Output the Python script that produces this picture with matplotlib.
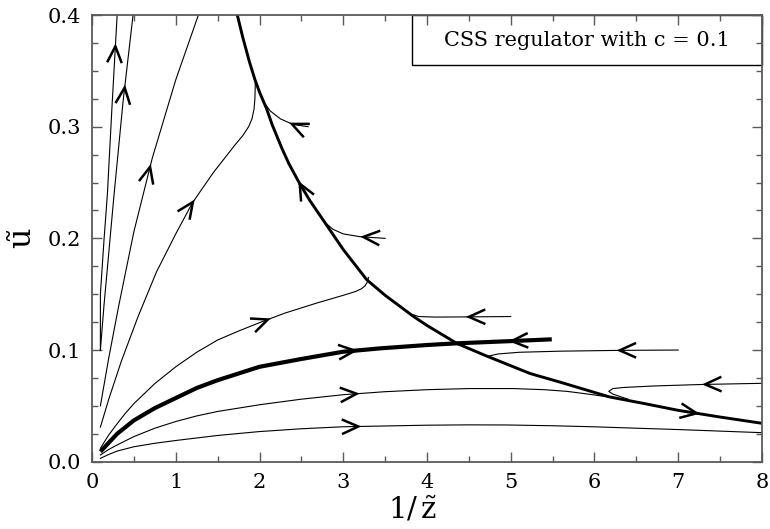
import matplotlib
matplotlib.use('Agg')
import matplotlib.pyplot as plt
from matplotlib.patches import Rectangle
import numpy as np

plt.rcParams['font.family'] = 'DejaVu Serif'
plt.rcParams['mathtext.fontset'] = 'dejavuserif'

# flow lines, (1/z, u) pairs
# separatrix (thick)
sep_x = [1.735, 1.80, 1.88, 1.946, 2.0, 2.085, 2.15, 2.265, 2.35, 2.48, 2.6, 2.80, 3.0, 3.28, 3.5,
         3.84, 4.0, 4.355, 4.7, 5.23, 5.6, 6.18, 6.6, 7.0, 7.5, 8.0]
sep_u = [0.400, 0.380, 0.358, 0.342, 0.331, 0.316, 0.302, 0.281, 0.267, 0.249, 0.234, 0.212, 0.190,
         0.163, 0.149, 0.130, 0.122, 0.106, 0.095, 0.079, 0.071, 0.058, 0.052, 0.046, 0.040, 0.0344]

# lower thick line
c_x = [0.1, 0.2, 0.3, 0.4, 0.5, 0.75, 1.0, 1.25, 1.5, 1.75, 2.0, 2.5, 3.0, 3.44, 4.0, 4.35, 5.0, 5.49]
c_u = [0.009, 0.017, 0.025, 0.031, 0.037, 0.048, 0.057, 0.066, 0.073, 0.079, 0.085, 0.092, 0.0985,
       0.1015, 0.1045, 0.106, 0.108, 0.1096]

# thin lines starting near 1/z = 0.1
a_x = [0.1, 0.2, 0.3, 0.5, 0.75, 1.0, 1.5, 2.0, 2.5, 3.0, 3.5, 4.0, 4.5, 4.95, 5.5, 5.98, 6.5, 7.0,
       7.5, 8.0]
a_u = [0.003, 0.0065, 0.0095, 0.0134, 0.0165, 0.019, 0.0235, 0.027, 0.0295, 0.0313, 0.032, 0.0327,
       0.033, 0.0329, 0.0322, 0.0313, 0.030, 0.0288, 0.0274, 0.026]

b_x = [0.1, 0.2, 0.3, 0.5, 0.75, 1.0, 1.25, 1.5, 2.0, 2.5, 3.0, 3.5, 4.0, 4.5, 5.03, 5.4, 5.67, 5.9,
       6.07, 6.3]
b_u = [0.006, 0.011, 0.015, 0.0225, 0.030, 0.036, 0.041, 0.045, 0.051, 0.056, 0.060, 0.0627, 0.0645,
       0.0655, 0.0655, 0.0645, 0.063, 0.0608, 0.059, 0.0565]

d_x = [0.1, 0.2, 0.3, 0.4, 0.5, 0.75, 1.0, 1.25, 1.5, 1.75, 2.0, 2.3, 2.68, 3.0, 3.15, 3.22, 3.26,
       3.285, 3.297, 3.30]
d_u = [0.012, 0.024, 0.034, 0.0435, 0.052, 0.070, 0.085, 0.098, 0.109, 0.117, 0.1245, 0.133, 0.142,
       0.149, 0.1525, 0.155, 0.1575, 0.1605, 0.163, 0.165]

e_x = [0.1, 0.2, 0.35, 0.55, 0.77, 1.0, 1.2, 1.45, 1.7, 1.8, 1.87, 1.91, 1.935, 1.945, 1.948, 1.95]
e_u = [0.031, 0.056, 0.090, 0.130, 0.170, 0.204, 0.232, 0.259, 0.283, 0.292, 0.300, 0.307, 0.316,
       0.325, 0.333, 0.342]

l1_x = [0.1, 0.1, 0.143, 0.183, 0.24, 0.30]
l1_u = [0.10, 0.15, 0.1985, 0.239, 0.32, 0.40]

l2_x = [0.1, 0.143, 0.263, 0.37, 0.49]
l2_u = [0.10, 0.14, 0.239, 0.322, 0.40]

l3_x = [0.1, 0.2, 0.32, 0.50, 0.72, 1.0, 1.27]
l3_u = [0.05, 0.093, 0.14, 0.206, 0.272, 0.342, 0.40]

# thin lines starting on the right, flowing left
r1_x = [2.58, 2.4, 2.25, 2.13, 2.05]
r1_u = [0.300, 0.302, 0.307, 0.314, 0.322]

r2_x = [3.5, 3.2, 3.0, 2.88, 2.80]
r2_u = [0.200, 0.2015, 0.204, 0.208, 0.213]

r3_x = [5.0, 4.5, 4.1, 3.9, 3.82]
r3_u = [0.130, 0.1297, 0.1295, 0.130, 0.132]

r4_x = [7.0, 6.3, 5.6, 5.1, 4.85, 4.76, 4.72]
r4_u = [0.100, 0.0997, 0.099, 0.098, 0.0965, 0.095, 0.094]

r5_x = [8.0, 7.3, 6.7, 6.35, 6.22, 6.17, 6.22, 6.4]
r5_u = [0.0702, 0.0692, 0.0678, 0.0665, 0.0655, 0.063, 0.0605, 0.056]

fig = plt.figure(figsize=(7.7, 5.29), dpi=100)
ax = fig.add_axes([0.1195, 0.1272, 0.8701, 0.8444])
ax.set_xlim(0, 8)
ax.set_ylim(0, 0.4)

thin = [(a_x, a_u), (b_x, b_u), (d_x, d_u), (e_x, e_u), (l1_x, l1_u), (l2_x, l2_u), (l3_x, l3_u),
        (r1_x, r1_u), (r2_x, r2_u), (r3_x, r3_u), (r4_x, r4_u), (r5_x, r5_u)]
for xs, us in thin:
    ax.plot(xs, us, color='k', lw=0.8)
ax.plot(sep_x, sep_u, color='k', lw=2.1)
ax.plot(c_x, c_u, color='k', lw=3.0, solid_capstyle='butt')


def chevron(xs, us, at, sign=1, by='x', size=18, half=24):
    # open arrow head sitting on a line, placed at a given 1/z (or u) value
    xs = np.asarray(xs, float)
    us = np.asarray(us, float)
    key = xs if by == 'x' else us
    for i in range(len(key) - 1):
        lo, hi = sorted((key[i], key[i + 1]))
        if lo <= at <= hi and hi > lo:
            break
    t = (at - key[i]) / (key[i + 1] - key[i])
    tip = (xs[i] + t * (xs[i + 1] - xs[i]), us[i] + t * (us[i + 1] - us[i]))
    p = ax.transData.transform([(xs[i], us[i]), (xs[i + 1], us[i + 1]), tip])
    d = (p[1] - p[0]) * sign
    d = d / np.hypot(*d)
    pts = []
    for ang in (np.radians(half), -np.radians(half)):
        rot = np.array([d[0] * np.cos(ang) - d[1] * np.sin(ang),
                        d[0] * np.sin(ang) + d[1] * np.cos(ang)])
        pts.append(p[2] - size * rot)
    wing = ax.transData.inverted().transform([pts[0], p[2], pts[1]])
    ax.plot(wing[:, 0], wing[:, 1], color='k', lw=1.8,
            solid_joinstyle='miter', solid_capstyle='butt')


chevron(a_x, a_u, 3.18)
chevron(b_x, b_u, 3.16)
chevron(c_x, c_u, 3.14)
chevron(c_x, c_u, 5.01, -1)
chevron(d_x, d_u, 2.10)
chevron(e_x, e_u, 1.205)
chevron(l1_x, l1_u, 0.372, by='u')
chevron(l2_x, l2_u, 0.335, by='u')
chevron(l3_x, l3_u, 0.264, by='u')
chevron(sep_x, sep_u, 2.48, -1)
chevron(sep_x, sep_u, 7.22)
chevron(r1_x, r1_u, 2.385)
chevron(r2_x, r2_u, 3.24)
chevron(r3_x, r3_u, 4.5)
chevron(r4_x, r4_u, 6.3)
chevron(r5_x, r5_u, 7.32)

grey = '#5a5a5a'
for s in ax.spines.values():
    s.set_color(grey)
    s.set_linewidth(1.3)
ax.set_xticks(range(0, 9))
ax.set_xticks(np.arange(0.5, 8, 1.0), minor=True)
ax.set_yticks([0.0, 0.1, 0.2, 0.3, 0.4])
ax.set_yticklabels(['0.0', '0.1', '0.2', '0.3', '0.4'])
ax.set_yticks(np.arange(0.025, 0.4, 0.025), minor=True)
ax.tick_params(which='both', direction='in', top=True, right=True, color=grey, width=1.0,
               labelsize=15, pad=8)
ax.tick_params(which='major', length=7)
ax.tick_params(which='minor', length=4)

ax.set_xlabel(r'$1/\,\tilde{\mathrm{z}}$', fontsize=21)
ax.xaxis.set_label_coords(0.478, -0.075, transform=ax.transAxes)
ax.xaxis.label.set_va('top')
ax.set_ylabel(r'$\tilde{\mathrm{u}}$', fontsize=23, labelpad=6)

ax.add_patch(Rectangle((0.478, 0.887), 0.522, 0.113, transform=ax.transAxes,
                       fill=False, edgecolor='k', lw=1.0, clip_on=False))
ax.text(0.739, 0.943, 'CSS regulator with c = 0.1', transform=ax.transAxes,
        ha='center', va='center', fontsize=15)

fig.savefig('out.png', dpi=100)
